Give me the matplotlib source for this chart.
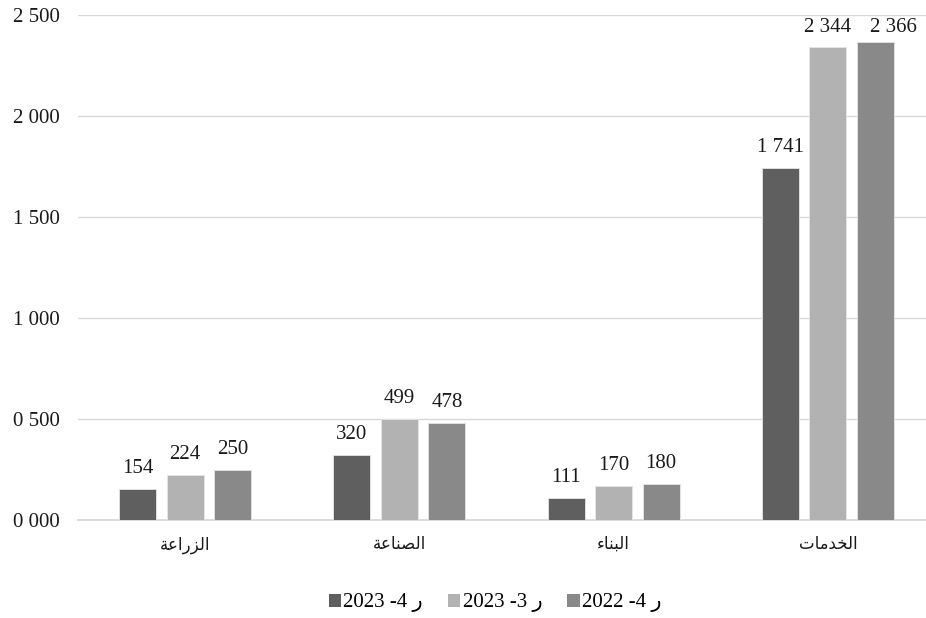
import matplotlib
matplotlib.use("Agg")
import matplotlib.pyplot as plt
import numpy as np
from matplotlib.patches import Patch

# ---- data -------------------------------------------------------------
categories = ["الزراعة", "الصناعة", "البناء", "الخدمات"]
series_names = ["2023 -4 ر", "2023 -3 ر", "2022 -4 ر"]
q4_2023 = [154, 320, 111, 1741]
q3_2023 = [224, 499, 170, 2344]
q4_2022 = [250, 478, 180, 2366]
y_ticks = [0, 500, 1000, 1500, 2000, 2500]

series_values = [q4_2023, q3_2023, q4_2022]
colors = ["#5f5f5f", "#b2b2b2", "#898989"]

# ---- minimal Arabic shaping (matplotlib has no bidi / joining support) --
FORMS = {
    "\u0627": ("\uFE8D", "\uFE8E", None, None),   # alef
    "\u0644": ("\uFEDD", "\uFEDE", "\uFEDF", "\uFEE0"),  # lam
    "\u0632": ("\uFEAF", "\uFEB0", None, None),   # zain
    "\u0631": ("\uFEAD", "\uFEAE", None, None),   # reh
    "\u0639": ("\uFEC9", "\uFECA", "\uFECB", "\uFECC"),  # ain
    "\u0629": ("\uFE93", "\uFE94", None, None),   # teh marbuta
    "\u0635": ("\uFEB9", "\uFEBA", "\uFEBB", "\uFEBC"),  # sad
    "\u0646": ("\uFEE5", "\uFEE6", "\uFEE7", "\uFEE8"),  # noon
    "\u0628": ("\uFE8F", "\uFE90", "\uFE91", "\uFE92"),  # beh
    "\u0621": ("\uFE80", None, None, None),       # hamza
    "\u062E": ("\uFEA5", "\uFEA6", "\uFEA7", "\uFEA8"),  # khah
    "\u062F": ("\uFEA9", "\uFEAA", None, None),   # dal
    "\u0645": ("\uFEE1", "\uFEE2", "\uFEE3", "\uFEE4"),  # meem
    "\u062A": ("\uFE95", "\uFE96", "\uFE97", "\uFE98"),  # teh
}


def _dual(c):
    f = FORMS.get(c)
    return f is not None and f[2] is not None


def _joins(c):
    f = FORMS.get(c)
    return f is not None and f[1] is not None


def shape_arabic(word):
    out = []
    n = len(word)
    for i, c in enumerate(word):
        if c not in FORMS:
            out.append(c)
            continue
        prev_j = i > 0 and _dual(word[i - 1]) and _joins(c)
        next_j = i < n - 1 and _dual(c) and _joins(word[i + 1])
        isol, fina, init, medi = FORMS[c]
        if prev_j and next_j:
            out.append(medi)
        elif prev_j:
            out.append(fina)
        elif next_j:
            out.append(init)
        else:
            out.append(isol)
    return "".join(reversed(out))


def fmt_num(v, pad=False):
    s = f"{int(v):,}".replace(",", " ")
    if pad and v < 1000:
        s = "0 " + f"{int(v):03d}"
    return s


# ---- figure -----------------------------------------------------------
FAM = ["Liberation Serif", "DejaVu Sans"]
plt.rcParams["font.family"] = FAM
FS = 15

W, H = 926, 618
fig = plt.figure(figsize=(W / 100, H / 100), dpi=100)
ax_left, ax_right, ax_bottom, ax_top = 78, 935, 520, 15
ax = fig.add_axes([ax_left / W, 1 - ax_bottom / H,
                   (ax_right - ax_left) / W, (ax_bottom - ax_top) / H])

x = np.arange(len(categories))
bar_w = 0.173
step = 0.222
for k, (vals, col, name) in enumerate(zip(series_values, colors, series_names)):
    xpos = x + (k - 1) * step
    ax.bar(xpos, vals, width=bar_w, color=col, edgecolor="#e6e6e6",
           linewidth=0.6, zorder=3)

ax.set_xlim(-0.5, len(categories) - 0.5)
ax.set_ylim(0, 2500)

# data labels: 16 px above each bar, kept below the top gridline area
px_per_unit = (ax_bottom - ax_top) / 2500
label_gap = 16 / px_per_unit
label_cap = 2415
labels = [[None] * len(categories) for _ in series_values]
for k, vals in enumerate(series_values):
    for i, v in enumerate(vals):
        labels[k][i] = ax.text(x[i] + (k - 1) * step,
                               min(v + label_gap, label_cap),
                               fmt_num(v), ha="center", va="baseline",
                               fontsize=FS, color="#1a1a1a", family=FAM,
                               clip_on=False)

# push a label to the right when it crowds its left neighbour
fig.canvas.draw()
renderer = fig.canvas.get_renderer()
x_px_per_unit = (ax_right - ax_left) / len(categories)
min_gap_px = 19
for i in range(len(categories)):
    for k in range(1, len(series_values)):
        left = labels[k - 1][i].get_window_extent(renderer)
        cur = labels[k][i].get_window_extent(renderer)
        same_row = abs(cur.y0 - left.y0) < cur.height
        if same_row and cur.x0 < left.x1 + 6:
            shift_px = left.x1 + min_gap_px - cur.x0
            labels[k][i].set_x(labels[k][i].get_position()[0]
                               + shift_px / x_px_per_unit)

ax.set_yticks(y_ticks)
ax.set_yticklabels([fmt_num(t, pad=True) for t in y_ticks], fontsize=FS,
                   color="#1a1a1a")
ax.set_xticks(x)
ax.set_xticklabels([shape_arabic(c) for c in categories], fontsize=12,
                   color="#1a1a1a")
ax.tick_params(axis="y", length=0, pad=13)
ax.tick_params(axis="x", length=0, pad=12)

ax.grid(axis="y", color="#d9d9d9", linewidth=1.0, zorder=0)
ax.set_axisbelow(True)
for s in ["left", "right", "top"]:
    ax.spines[s].set_visible(False)
ax.spines["bottom"].set_color("#d9d9d9")
ax.spines["bottom"].set_linewidth(1.3)

handles = [Patch(facecolor=c, edgecolor="none") for c in colors]
fig.legend(handles, series_names, loc="center", ncol=3,
           bbox_to_anchor=(495 / W, 1 - 603 / H), frameon=False,
           fontsize=FS, handlelength=0.6, handleheight=0.6,
           handletextpad=0.1, columnspacing=1.2, borderaxespad=0)

fig.savefig("out.png", dpi=100)
